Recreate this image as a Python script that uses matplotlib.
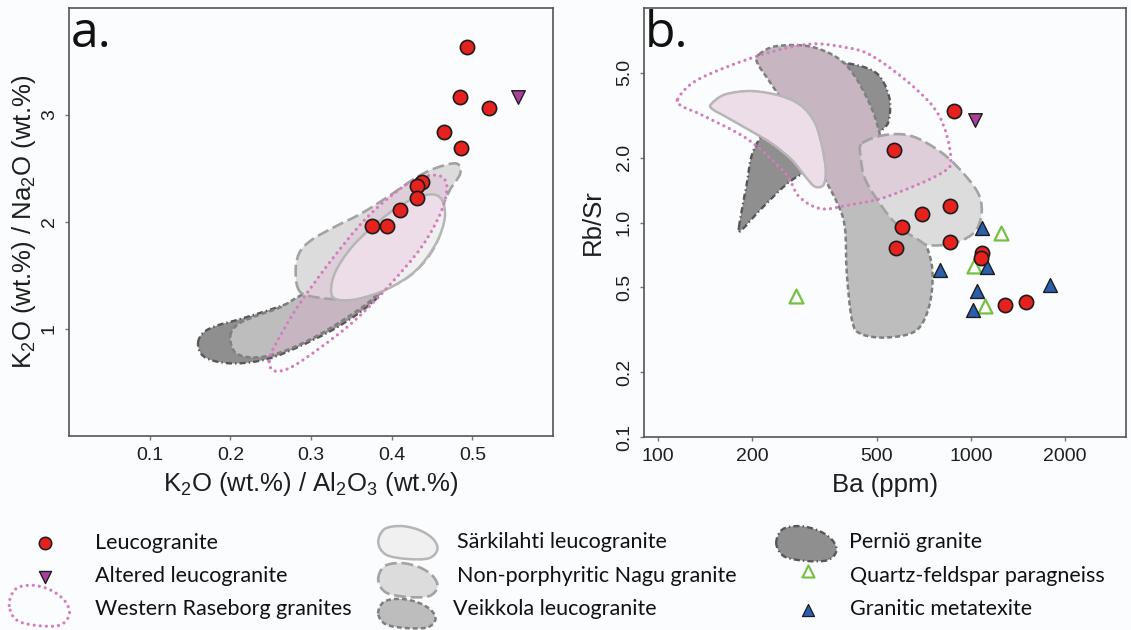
import numpy as np
import matplotlib
matplotlib.use('Agg')
import matplotlib.pyplot as plt
from matplotlib.path import Path
from matplotlib.patches import PathPatch

# ---------------- data ----------------
# Panel a: K2O/Al2O3 (x) vs K2O/Na2O (y)
leuco_a_x = [0.494, 0.485, 0.521, 0.465, 0.486, 0.438, 0.431, 0.431, 0.410, 0.394, 0.375]
leuco_a_y = [3.64, 3.17, 3.07, 2.84, 2.69, 2.37, 2.34, 2.22, 2.11, 1.96, 1.96]
altered_a_x = [0.557]
altered_a_y = [3.17]

# Panel b: Ba (ppm) vs Rb/Sr
leuco_b_ba = [886, 569, 856, 700, 601, 577, 856, 1085, 1078, 1290, 1506]
leuco_b_rbsr = [3.30, 2.17, 1.20, 1.10, 0.955, 0.76, 0.81, 0.72, 0.68, 0.414, 0.426]
altered_b_ba = [1035]
altered_b_rbsr = [3.0]
metatexite_ba = [1084, 796, 1128, 1047, 1019, 1796]
metatexite_rbsr = [0.94, 0.60, 0.62, 0.48, 0.39, 0.51]
paragneiss_ba = [277, 1246, 1027, 1114]
paragneiss_rbsr = [0.456, 0.89, 0.63, 0.41]

# Field outlines, panel a
pernio_a_x = [0.160, 0.167, 0.183, 0.208, 0.246, 0.283, 0.325, 0.362, 0.387, 0.393, 0.383, 0.358, 0.325, 0.283, 0.246, 0.208, 0.179, 0.164]
pernio_a_y = [0.875, 0.969, 1.031, 1.084, 1.172, 1.266, 1.359, 1.438, 1.453, 1.406, 1.297, 1.141, 0.984, 0.828, 0.719, 0.678, 0.703, 0.766]
veikkola_a_x = [0.200, 0.210, 0.233, 0.262, 0.287, 0.316, 0.354, 0.383, 0.389, 0.374, 0.345, 0.304, 0.262, 0.229, 0.206]
veikkola_a_y = [0.938, 1.047, 1.125, 1.203, 1.313, 1.406, 1.469, 1.469, 1.406, 1.266, 1.109, 0.922, 0.781, 0.734, 0.781]
nagu_a_x = [0.287, 0.281, 0.285, 0.300, 0.329, 0.362, 0.395, 0.4285, 0.453, 0.480, 0.485, 0.472, 0.462, 0.460, 0.445, 0.420, 0.383, 0.345, 0.312]
nagu_a_y = [1.344, 1.516, 1.703, 1.828, 1.953, 2.078, 2.234, 2.406, 2.500, 2.547, 2.453, 2.297, 2.109, 1.891, 1.672, 1.484, 1.344, 1.281, 1.291]
sark_a_x = [0.325, 0.330, 0.350, 0.380, 0.410, 0.440, 0.460, 0.466, 0.455, 0.430, 0.395, 0.358, 0.333]
sark_a_y = [1.344, 1.530, 1.760, 1.980, 2.150, 2.250, 2.230, 2.050, 1.800, 1.547, 1.375, 1.281, 1.275]
raseborg_a_x = [0.248, 0.254, 0.283, 0.325, 0.370, 0.420, 0.453, 0.468, 0.462, 0.437, 0.395, 0.354, 0.312, 0.275, 0.254]
raseborg_a_y = [0.703, 0.828, 1.203, 1.641, 2.047, 2.359, 2.438, 2.359, 2.109, 1.766, 1.391, 1.078, 0.828, 0.641, 0.609]

# Field outlines, panel b
pernio_b_ba = [182, 192, 205, 263, 316, 393, 497, 548, 548, 522, 447, 347, 269, 217, 185]
pernio_b_rbsr = [0.955, 1.47, 2.26, 3.80, 5.50, 5.56, 5.00, 3.88, 3.02, 2.71, 2.29, 1.91, 1.58, 1.18, 0.92]
veikkola_b_ba = [211, 241, 316, 402, 484, 540, 634, 724, 755, 735, 668, 540, 447, 418, 402, 396, 371, 316, 269, 229, 208]
veikkola_b_rbsr = [6.08, 6.65, 6.55, 5.37, 3.37, 1.96, 1.18, 0.769, 0.577, 0.403, 0.313, 0.291, 0.302, 0.348, 0.577, 0.955, 1.27, 1.96, 3.13, 4.49, 5.56]
nagu_b_ba = [450, 535, 652, 813, 966, 1067, 1079, 1016, 875, 736, 684, 590, 522, 461, 445]
nagu_b_rbsr = [2.34, 2.56, 2.52, 2.10, 1.64, 1.32, 1.06, 0.887, 0.798, 0.783, 0.826, 0.955, 1.18, 1.58, 2.03]
sark_b_ba = [148, 164, 200, 249, 289, 318, 335, 344, 339, 318, 296, 268, 231, 195, 164, 150]
sark_b_rbsr = [3.55, 3.95, 4.10, 3.88, 3.48, 2.91, 2.26, 1.76, 1.50, 1.47, 1.64, 1.96, 2.34, 2.71, 3.13, 3.37]
raseborg_b_ba = [116, 135, 209, 303, 398, 484, 652, 794, 863, 807, 540, 412, 333, 283, 255, 195, 141, 120]
raseborg_b_rbsr = [3.76, 4.65, 5.98, 6.78, 6.55, 5.98, 4.33, 3.13, 2.03, 1.70, 1.32, 1.21, 1.16, 1.32, 1.70, 2.43, 3.13, 3.48]

xticks_a = [0.1, 0.2, 0.3, 0.4, 0.5]
xticklabels_a = ['0.1', '0.2', '0.3', '0.4', '0.5']
yticks_a = [1, 2, 3]
yticklabels_a = ['1', '2', '3']
xticks_b = [100, 200, 500, 1000, 2000]
xticklabels_b = ['100', '200', '500', '1000', '2000']
yticks_b = [0.1, 0.2, 0.5, 1.0, 2.0, 5.0]
yticklabels_b = ['0.1', '0.2', '0.5', '1.0', '2.0', '5.0']

legend_labels = ['Leucogranite', 'Altered leucogranite', 'Western Raseborg granites',
                 'Särkilahti leucogranite', 'Non-porphyritic Nagu granite', 'Veikkola leucogranite',
                 'Perniö granite', 'Quartz-feldspar paragneiss', 'Granitic metatexite']

# ---------------- styles ----------------
BG = '#fbfcfd'
RED = '#e5221d'
PURPLE = '#ab3f9c'
BLUE = '#2b5fae'
GREEN = '#74c043'
EDGE = '#1c1c1c'
PINK_LINE = '#d67cbc'
TINT = '#e7a3d3'
TINT_ALPHA = 0.24

STY = {
    'pernio':   dict(fc='#8f8f8f', ec='#575757', ls=(0, (2.6, 1.3, 0.6, 1.3)), lw=1.7),
    'veikkola': dict(fc='#bdbdbd', ec='#7f7f7f', ls=(0, (2.0, 1.2)), lw=1.8),
    'nagu':     dict(fc='#dcdcdc', ec='#a3a3a3', ls=(0, (4.5, 1.8)), lw=1.9),
    'sark':     dict(fc='#f0f0f0', ec='#b6b6b6', ls='solid', lw=1.8),
}

plt.rcParams['font.family'] = ['Liberation Sans', 'DejaVu Sans']
plt.rcParams['mathtext.default'] = 'regular'
TXT = '#1e1e1e'

W, H = 1131, 630
fig = plt.figure(figsize=(W / 100, H / 100), dpi=100, facecolor=BG)


def rect(l, t, r, b):
    return [l / W, 1 - b / H, (r - l) / W, (b - t) / H]


def smooth_path(xs, ys, logx=False, logy=False):
    x = np.log10(np.asarray(xs, float)) if logx else np.asarray(xs, float)
    y = np.log10(np.asarray(ys, float)) if logy else np.asarray(ys, float)
    P = np.column_stack([x, y])
    n = len(P)
    verts = [P[0]]
    codes = [Path.MOVETO]
    for i in range(n):
        p0, p1, p2, p3 = P[i - 1], P[i], P[(i + 1) % n], P[(i + 2) % n]
        c1 = p1 + (p2 - p0) / 6.0
        c2 = p2 - (p3 - p1) / 6.0
        verts += [c1, c2, p2]
        codes += [Path.CURVE4] * 3
    verts.append(P[0])
    codes.append(Path.CLOSEPOLY)
    V = np.array(verts)
    if logx:
        V[:, 0] = 10 ** V[:, 0]
    if logy:
        V[:, 1] = 10 ** V[:, 1]
    return Path(V, codes)


def draw_fields(ax, fields, ras_path, z0=1.0):
    z = z0
    for path, key, tinted in fields:
        s = STY[key]
        body = PathPatch(path, facecolor=s['fc'], edgecolor='none', zorder=z)
        ax.add_patch(body)
        if tinted:
            tint = PathPatch(ras_path, facecolor=TINT, edgecolor='none', alpha=TINT_ALPHA, zorder=z + 0.01)
            ax.add_patch(tint)
            tint.set_clip_path(body)
        border = PathPatch(path, facecolor='none', edgecolor=s['ec'], linestyle=s['ls'],
                           linewidth=s['lw'], zorder=z + 0.02)
        border.set_capstyle('butt')
        ax.add_patch(border)
        z += 0.1
    ras = PathPatch(ras_path, facecolor='none', edgecolor=PINK_LINE, linestyle=(0, (0.01, 1.9)),
                    linewidth=2.3, zorder=z + 0.5)
    ras.set_capstyle('round')
    ax.add_patch(ras)


def style_axes(ax):
    ax.set_facecolor(BG)
    for sp in ax.spines.values():
        sp.set_color('#555555')
        sp.set_linewidth(1.2)
    ax.tick_params(axis='both', which='major', direction='out', length=3, width=1.0,
                   color='#777777', labelsize=14, pad=5, labelcolor=TXT)
    ax.tick_params(axis='both', which='minor', length=0)
    ax.tick_params(axis='y', labelrotation=90)
    for lab in ax.get_yticklabels():
        lab.set_va('center')


# ---------------- panel a ----------------
axa = fig.add_axes(rect(69, 8, 553, 436))
axa.set_xlim(0.0, 0.6)
axa.set_ylim(0.0, 4.0)
ras_a = smooth_path(raseborg_a_x, raseborg_a_y)
draw_fields(axa, [
    (smooth_path(pernio_a_x, pernio_a_y), 'pernio', True),
    (smooth_path(veikkola_a_x, veikkola_a_y), 'veikkola', True),
    (smooth_path(nagu_a_x, nagu_a_y), 'nagu', True),
    (smooth_path(sark_a_x, sark_a_y), 'sark', True),
], ras_a)
axa.scatter(leuco_a_x, leuco_a_y, s=105, c=RED, edgecolors=EDGE, linewidths=1.2, zorder=5)
axa.scatter(altered_a_x, altered_a_y, marker='v', s=95, c=PURPLE, edgecolors=EDGE, linewidths=1.0, zorder=5)
axa.set_xticks(xticks_a)
axa.set_xticklabels(xticklabels_a)
axa.set_yticks(yticks_a)
axa.set_yticklabels(yticklabels_a)
style_axes(axa)
axa.set_xlabel(r'K$_2$O (wt.%) / Al$_2$O$_3$ (wt.%)', fontsize=18.5, color=TXT, va='center')
axa.xaxis.set_label_coords(0.5, -0.112)
axa.set_ylabel(r'K$_2$O (wt.%) / Na$_2$O (wt.%)', fontsize=18.5, color=TXT, va='center')
axa.yaxis.set_label_coords(-0.092, 0.5)

# ---------------- panel b ----------------
axb = fig.add_axes(rect(644, 8, 1126, 437))
axb.set_xscale('log')
axb.set_yscale('log')
axb.set_xlim(90.5, 3130)
axb.set_ylim(0.1, 10)
ras_b = smooth_path(raseborg_b_ba, raseborg_b_rbsr, True, True)
draw_fields(axb, [
    (smooth_path(pernio_b_ba, pernio_b_rbsr, True, True), 'pernio', False),
    (smooth_path(veikkola_b_ba, veikkola_b_rbsr, True, True), 'veikkola', True),
    (smooth_path(nagu_b_ba, nagu_b_rbsr, True, True), 'nagu', True),
    (smooth_path(sark_b_ba, sark_b_rbsr, True, True), 'sark', True),
], ras_b)
axb.scatter(paragneiss_ba, paragneiss_rbsr, marker='^', s=100, facecolors='white', edgecolors=GREEN,
            linewidths=1.6, zorder=5)
axb.scatter(metatexite_ba, metatexite_rbsr, marker='^', s=100, c=BLUE, edgecolors=EDGE, linewidths=1.0, zorder=5)
axb.scatter(leuco_b_ba, leuco_b_rbsr, s=105, c=RED, edgecolors=EDGE, linewidths=1.2, zorder=6)
axb.scatter(altered_b_ba, altered_b_rbsr, marker='v', s=95, c=PURPLE, edgecolors=EDGE, linewidths=1.0, zorder=6)
axb.xaxis.set_minor_locator(matplotlib.ticker.NullLocator())
axb.yaxis.set_minor_locator(matplotlib.ticker.NullLocator())
axb.set_xticks(xticks_b)
axb.set_xticklabels(xticklabels_b)
axb.set_yticks(yticks_b)
axb.set_yticklabels(yticklabels_b)
style_axes(axb)
axb.set_xlabel('Ba (ppm)', fontsize=18.5, color=TXT, va='center')
axb.xaxis.set_label_coords(0.5, -0.112)
axb.set_ylabel('Rb/Sr', fontsize=18.5, color=TXT, va='center')
axb.yaxis.set_label_coords(-0.106, 0.5)

# panel letters
fig.text(71 / W, 1 - 47 / H, 'a.', fontsize=36, family='Open Sans', color='#111111', va='baseline', ha='left')
fig.text(645 / W, 1 - 47 / H, 'b.', fontsize=36, family='Open Sans', color='#111111', va='baseline', ha='left')

# ---------------- legend ----------------
axl = fig.add_axes([0, 0, 1, 1], zorder=-1)
axl.set_xlim(0, W)
axl.set_ylim(H, 0)
axl.axis('off')
axl.patch.set_alpha(0)

blob_u = [0.02, 0.12, 0.40, 0.70, 0.92, 0.99, 0.85, 0.50, 0.15]
blob_v = [0.50, 0.12, 0.03, 0.15, 0.40, 0.70, 0.95, 0.97, 0.85]


def blob(x0, y0, x1, y1, key=None, dotted=False):
    xs = [x0 + u * (x1 - x0) for u in blob_u]
    ys = [y0 + v * (y1 - y0) for v in blob_v]
    p = smooth_path(xs, ys)
    if dotted:
        pp = PathPatch(p, facecolor='none', edgecolor=PINK_LINE, linestyle=(0, (0.01, 1.9)), linewidth=2.3)
        pp.set_capstyle('round')
    else:
        s = STY[key]
        pp = PathPatch(p, facecolor=s['fc'], edgecolor=s['ec'], linestyle=s['ls'], linewidth=s['lw'])
    axl.add_patch(pp)


axl.scatter([45], [543], s=80, c=RED, edgecolors=EDGE, linewidths=1.1)
axl.scatter([45], [577], marker='v', s=75, c=PURPLE, edgecolors=EDGE, linewidths=1.0)
blob(8, 584, 70, 627, dotted=True)
blob(377, 525, 438, 560, 'sark')
blob(377, 562, 438, 598, 'nagu')
blob(377, 598, 436, 629, 'veikkola')
blob(775, 525, 837, 562, 'pernio')
axl.scatter([808], [571], marker='^', s=75, facecolors='white', edgecolors=GREEN, linewidths=1.5)
axl.scatter([808], [610], marker='^', s=75, c=BLUE, edgecolors=EDGE, linewidths=0.9)

leg_pos = [(95, 543), (95, 576), (95, 609),
           (457, 542), (457, 576), (453, 609),
           (849, 542), (850, 576), (850, 609)]
for (lx, ly), lab in zip(leg_pos, legend_labels):
    axl.text(lx, ly, lab, fontsize=15.5, family='Lato', color='#111111', va='center', ha='left')

fig.savefig('out.png', dpi=100, facecolor=BG)
